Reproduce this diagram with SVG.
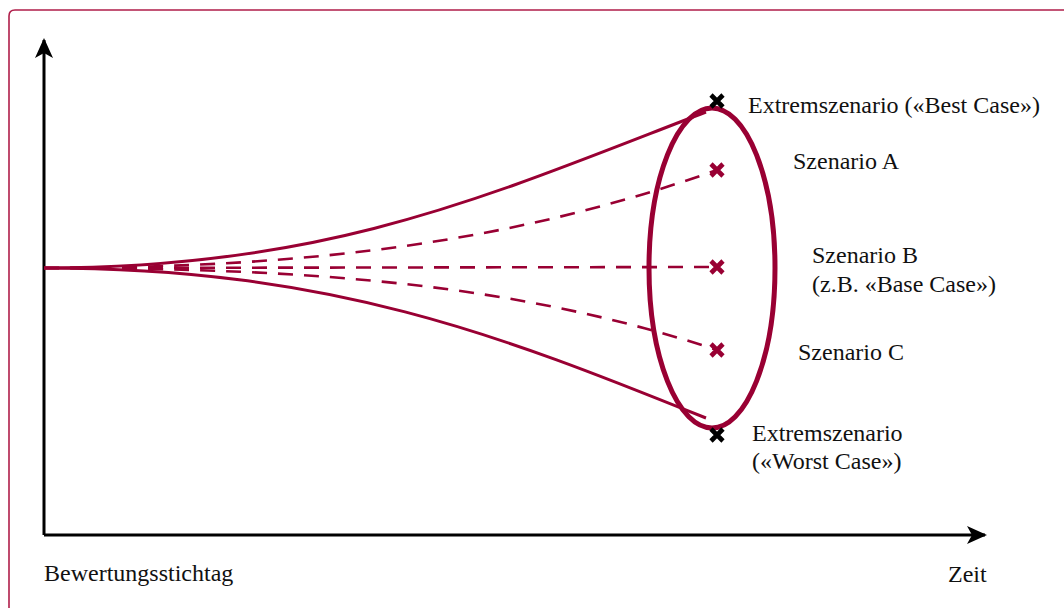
<svg xmlns="http://www.w3.org/2000/svg" width="1064" height="608" viewBox="0 0 1064 608">
  <style>
    .frame { fill: none; stroke: #b01e4a; stroke-width: 1.6; }
    .axis { fill: none; stroke: #000; stroke-width: 3; }
    .solid { fill: none; stroke: #990033; stroke-width: 3; }
    .dash { fill: none; stroke: #990033; stroke-width: 2.6; stroke-dasharray: 15 11; }
    .ring { fill: none; stroke: #990033; stroke-width: 5; }
    .mk { fill: none; stroke-width: 4.6; stroke-linecap: butt; }
    .mk-b { stroke: #000; }
    .mk-r { stroke: #990033; }
    .lbl { font-family: "Liberation Serif", "DejaVu Serif", serif; font-size: 24px; fill: #111; }
  </style>
  <defs>
    <marker id="arrow" viewBox="0 0 20 20" refX="18" refY="10" markerWidth="20" markerHeight="20" markerUnits="userSpaceOnUse" orient="auto">
      <path d="M0,1 L20,10 L0,19 L5,10 Z" fill="#000"/>
    </marker>
  </defs>

  <rect width="1064" height="608" fill="#fff"/>
  <!-- outer frame, open to the right and bottom -->
  <path class="frame" d="M9,620 L9,16 Q9,10 15,10 L1070,10"/>

  <!-- axes -->
  <g id="axes">
    <path class="axis" d="M44,535 L44,40" marker-end="url(#arrow)"/>
    <path class="axis" d="M44,535 L985,535" marker-end="url(#arrow)"/>
  </g>

  <g id="connectors">
    <!-- envelope of extreme scenarios -->
    <path class="solid" d="M44,268 C 330,268 490,195 706,112"/>
    <path class="solid" d="M44,268 C 330,268 500,335 706,418"/>
    <!-- intermediate scenarios -->
    <path class="dash" d="M44,268 C 320,268 520,240 717,170"/>
    <path class="dash" d="M44,268 L717,267"/>
    <path class="dash" d="M44,268 C 320,268 520,285 717,350"/>
  </g>

  <g id="range">
    <ellipse class="ring" cx="712" cy="268" rx="63" ry="160"/>
  </g>

  <g id="markers">
    <path class="mk mk-b" d="M711,95 L723,107 M723,95 L711,107"/>
    <path class="mk mk-b" d="M711,429 L723,441 M723,429 L711,441"/>
    <path class="mk mk-r" d="M711,164 L723,176 M723,164 L711,176"/>
    <path class="mk mk-r" d="M711,261 L723,273 M723,261 L711,273"/>
    <path class="mk mk-r" d="M711,344 L723,356 M723,344 L711,356"/>
  </g>

  <g id="labels">
    <text class="lbl" x="748" y="113">Extremszenario («Best Case»)</text>
    <text class="lbl" x="793" y="169">Szenario A</text>
    <text class="lbl" x="812" y="263">Szenario B</text>
    <text class="lbl" x="812" y="292">(z.B. «Base Case»)</text>
    <text class="lbl" x="798" y="360">Szenario C</text>
    <text class="lbl" x="752" y="441">Extremszenario</text>
    <text class="lbl" x="752" y="469">(«Worst Case»)</text>
    <text class="lbl" x="44" y="581">Bewertungsstichtag</text>
    <text class="lbl" x="948" y="582">Zeit</text>
  </g>
</svg>
